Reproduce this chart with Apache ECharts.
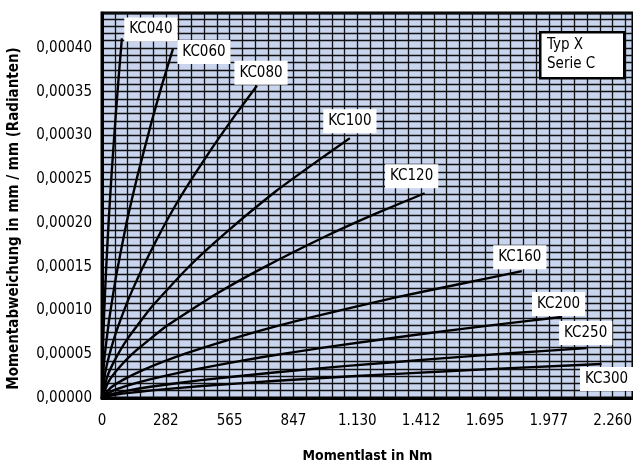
<!DOCTYPE html>
<html>
<head>
<meta charset="utf-8">
<script src="https://cdn.jsdelivr.net/npm/echarts@6/dist/echarts.min.js"></script>
<style>
html,body{margin:0;padding:0;background:#fff;}
#chart{width:633px;height:463px;}
</style>
</head>
<body>
<div id="chart"></div>
<script>
// ---- data ----
var seriesNames = ['KC040','KC060','KC080','KC100','KC120','KC160','KC200','KC250','KC300'];
var kc040X = [0, 1.8, 4.4, 8.8, 17.6, 30.8, 44, 61.6, 74.8, 88];
var kc040Y = [0, 0.0000323, 0.0000587, 0.0000920, 0.000144, 0.000208, 0.000262, 0.000326, 0.000370, 0.000411];
var kc060X = [0, 6.3, 15.7, 31.4, 62.8, 109.9, 157, 219.8, 266.9, 314];
var kc060Y = [0, 0.0000314, 0.0000569, 0.0000893, 0.000140, 0.000202, 0.000254, 0.000316, 0.000359, 0.000399];
var kc080X = [0, 13.7, 34.3, 68.6, 137.2, 240.1, 343, 480.2, 583.1, 686];
var kc080Y = [0, 0.0000281, 0.0000509, 0.0000799, 0.000125, 0.000180, 0.000228, 0.000283, 0.000321, 0.000357];
var kc100X = [0, 21.9, 54.9, 109.7, 219.4, 384, 548.5, 767.9, 932.5, 1097];
var kc100Y = [0, 0.0000234, 0.0000424, 0.0000665, 0.000104, 0.000150, 0.000189, 0.000236, 0.000267, 0.000297];
var kc120X = [0, 28.6, 71.4, 142.8, 285.6, 499.8, 714, 999.6, 1213.8, 1428];
var kc120Y = [0, 0.0000184, 0.0000334, 0.0000524, 0.0000822, 0.000118, 0.000149, 0.000186, 0.000211, 0.000234];
var kc160X = [0, 37.2, 92.9, 185.8, 371.6, 650.3, 929, 1300.6, 1579.3, 1858];
var kc160Y = [0, 0.0000114, 0.0000207, 0.0000325, 0.0000509, 0.0000733, 0.0000924, 0.000115, 0.000130, 0.000145];
var kc200X = [0, 40.7, 101.7, 203.4, 406.8, 711.9, 1017, 1423.8, 1728.9, 2034];
var kc200Y = [0, 0.00000729, 0.0000132, 0.0000207, 0.0000325, 0.0000468, 0.0000590, 0.0000734, 0.0000833, 0.0000926];
var kc250X = [0, 42.9, 107.3, 214.5, 429, 750.8, 1072.5, 1501.5, 1823.3, 2145];
var kc250Y = [0, 0.00000449, 0.00000815, 0.0000128, 0.0000201, 0.0000289, 0.0000364, 0.0000453, 0.0000514, 0.0000571];
var kc300X = [0, 44.2, 110.6, 221.1, 442.2, 773.9, 1105.5, 1547.7, 1879.4, 2211];
var kc300Y = [0, 0.00000306, 0.00000555, 0.00000871, 0.0000137, 0.0000197, 0.0000248, 0.0000309, 0.0000350, 0.0000389];

var xTickLabels = ['0','282','565','847','1.130','1.412','1.695','1.977','2.260'];
var yTickLabels = ['0,00000','0,00005','0,00010','0,00015','0,00020','0,00025','0,00030','0,00035','0,00040'];
var xTickStep = 282.5;
var yTickStep = 0.00005;
var xLabelText = 'Momentlast in Nm';
var yLabelText = 'Momentabweichung in mm / mm (Radianten)';
var boxText = 'Typ X\nSerie C';

// ---- layout / style ----
var allX = [kc040X,kc060X,kc080X,kc100X,kc120X,kc160X,kc200X,kc250X,kc300X];
var allY = [kc040Y,kc060Y,kc080Y,kc100Y,kc120Y,kc160Y,kc200Y,kc250Y,kc300Y];
var labelOffsets = [[29,-9],[31,3],[4,-13],[0,-17],[-13,-17],[-2,-14],[-3,-13],[-1,-15],[5,15]];
var FONT = "'DejaVu Sans Condensed','Liberation Sans Narrow',sans-serif";

function pairs(xs, ys){ return xs.map(function(x,i){ return [x, ys[i]]; }); }

var series = seriesNames.map(function(name, i){
  return {
    name: name, type: 'line', data: pairs(allX[i], allY[i]),
    smooth: 0.15, showSymbol: false, symbol: 'none',
    lineStyle: {color: '#000', width: 2.4}, z: 5, silent: true
  };
});
series.push({
  type: 'scatter', z: 10, symbolSize: 1, itemStyle: {color: 'rgba(0,0,0,0)', opacity: 1}, silent: true,
  data: seriesNames.map(function(name, i){
    var xs = allX[i], ys = allY[i], n = xs.length - 1;
    return {
      value: [xs[n], ys[n]], name: name,
      label: {show: true, position: 'inside', offset: labelOffsets[i], formatter: name,
        color: '#000', opacity: 1, fontFamily: FONT, fontSize: 15, backgroundColor: '#fff',
        padding: [3, 5, 2, 5], lineHeight: 19}
    };
  })
});

var chart = echarts.init(document.getElementById('chart'), null, {renderer: 'canvas'});
chart.setOption({
  animation: false,
  backgroundColor: '#fff',
  grid: {left: 102, right: 0, top: 13, bottom: 65, show: true, backgroundColor: '#c9d5ee',
    borderColor: '#000', borderWidth: 3, outerBoundsMode: 'none', containLabel: false},
  xAxis: {
    type: 'value', min: 0, max: 2350, interval: xTickStep / 5,
    axisLine: {show: true, lineStyle: {color: '#000', width: 3}},
    axisTick: {show: false},
    splitLine: {show: true, lineStyle: {color: '#111', width: 1.3}},
    axisLabel: {interval: 0, margin: 16, color: '#000', fontFamily: FONT, fontSize: 15, showMaxLabel: false,
      formatter: function(v){
        var k = Math.round(v / xTickStep);
        if (Math.abs(v / xTickStep - k) < 1e-3 && k < xTickLabels.length) return xTickLabels[k];
        return '';
      }},
    name: xLabelText, nameLocation: 'middle', nameGap: 51,
    nameTextStyle: {color: '#000', fontFamily: FONT, fontSize: 14, fontWeight: 'bold'}
  },
  yAxis: {
    type: 'value', min: 0, max: 0.00044, interval: yTickStep / 6,
    axisLine: {show: true, lineStyle: {color: '#000', width: 3}},
    axisTick: {show: false},
    splitLine: {show: true, lineStyle: {color: '#111', width: 1.3}},
    axisLabel: {interval: 0, margin: 10, color: '#000', fontFamily: FONT, fontSize: 15, showMaxLabel: false,
      formatter: function(v){
        var k = Math.round(v / yTickStep);
        if (Math.abs(v / yTickStep - k) < 1e-3 && k < yTickLabels.length) return yTickLabels[k];
        return '';
      }},
    name: yLabelText, nameLocation: 'middle', nameGap: 80,
    nameTextStyle: {color: '#000', fontFamily: FONT, fontSize: 15, fontWeight: 'bold', padding: [0, 26, 0, 0]}
  },
  graphic: [
    {type: 'rect', left: 539, top: 31, z: 100, shape: {x: 0, y: 0, width: 84, height: 46},
      style: {fill: '#fff', stroke: '#000', lineWidth: 2.5}},
    {type: 'text', left: 547, top: 36, z: 101,
      style: {text: boxText, font: '15px ' + FONT, fill: '#000', lineHeight: 19}}
  ],
  series: series
});
</script>
</body>
</html>
